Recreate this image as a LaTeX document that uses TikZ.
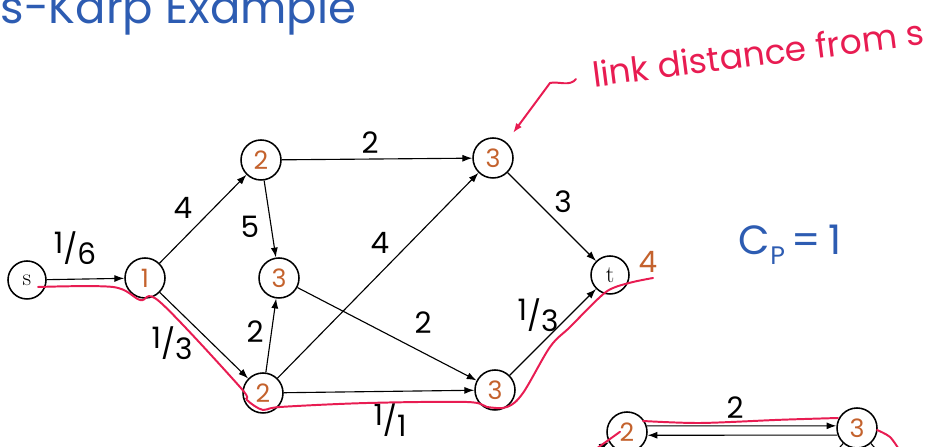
\documentclass[tikz,border=0pt]{standalone}
\usepackage{fontspec}
\newfontfamily\hand{Poppins}
\usetikzlibrary{arrows.meta}
\definecolor{penblue}{RGB}{45,92,178}
\definecolor{penred}{RGB}{232,28,82}
\definecolor{penorange}{RGB}{196,98,45}
\tikzset{
  vert/.style={draw, circle, line width=1.1pt, minimum size=1cm, inner sep=0pt,
    text=penorange, font=\hand\fontsize{18}{18}\selectfont},
  term/.style={draw, circle, line width=1.1pt, minimum size=0.95cm, inner sep=0pt,
    font=\fontsize{17}{17}\selectfont},
  wt/.style={font=\hand\fontsize{21}{21}\selectfont},
  highlight/.style={draw=penred, line width=1.4pt, line cap=round},
  >={Latex[length=7pt,width=5pt]}
}
\newcommand{\slfrac}[2]{\raisebox{0.35ex}{#1}/\raisebox{-0.3ex}{#2}}

\begin{document}
\begin{tikzpicture}[thick]
  \useasboundingbox (0,0) rectangle (23.35,11.175);
  \clip (0,0) rectangle (23.35,11.175);

  % title and notes
  \node[anchor=base west, inner sep=0pt, text=penblue, font=\hand\fontsize{32}{32}\selectfont] (title) at (0,10.575) {s-Karp Example};
  \node[rotate=7.3, text=penred, font=\hand\fontsize{24.5}{24.5}\selectfont] (note) at (18.95,9.85) {link distance from s};
  \node[text=penblue, font=\hand\fontsize{29}{29}\selectfont] (cp) at (19.75,5.05) {C\raisebox{-0.45ex}{\fontsize{18}{18}\selectfont P}\,=\,1};

  % vertices
  \node[term] (s) at (0.675,4.175) {s};
  \node[vert] (v1) at (3.625,4.225) {1};
  \node[vert] (a) at (6.525,7.175) {2};
  \node[vert] (b) at (6.975,4.225) {3};
  \node[vert] (c) at (6.575,1.35) {2};
  \node[vert] (d) at (12.325,7.225) {3};
  \node[vert] (e) at (12.375,1.425) {3};
  \node[term] (t) at (15.25,4.3) {t};
  \node[vert] (f) at (15.675,0.375) {2};
  \node[vert] (g) at (21.425,0.475) {3};

  % edges
  \draw[->] (s) -- (v1);
  \draw[->] (v1) -- (a);
  \draw[->] (v1) -- (c);
  \draw[->] (a) -- (d);
  \draw[->] (a) -- (b);
  \draw[->] (c) -- (b);
  \draw[->] (c) -- (d);
  \draw[->] (b) -- (e);
  \draw[->] (c) -- (e);
  \draw[->] (d) -- (t);
  \draw[->] (e) -- (t);
  \draw[->] (f.17) -- (g.174);
  \draw[->] (g.200) -- (f.-9);
  \coordinate (fin) at (14.4,-0.35);
  \coordinate (gl) at (20.6,-0.45);
  \coordinate (gr) at (22.3,-0.5);
  \draw[->] (fin) -- (f);
  \draw (g) -- (gl);
  \draw (g) -- (gr);

  % weights
  \node[wt] (w1) at (1.875,4.975) {\slfrac{1}{6}};
  \node[wt] (w2) at (4.575,5.975) {4};
  \node[wt] (w3) at (6.25,5.5) {5};
  \node[wt] (w4) at (6.375,2.875) {2};
  \node[wt] (w5) at (4.3,2.6) {\slfrac{1}{3}};
  \node[wt] (w6) at (9.25,7.6) {2};
  \node[wt] (w7) at (9.5,5.1) {4};
  \node[wt] (w8) at (10.575,3.1) {2};
  \node[wt] (w9) at (14.075,6.125) {3};
  \node[wt] (w10) at (13.45,3.3) {\slfrac{1}{3}};
  \node[wt] (w11) at (9.75,0.675) {\slfrac{1}{1}};
  \node[wt] (w12) at (18.375,0.975) {2};
  \node[wt, text=penorange] (tdist) at (16.2,4.625) {4};

  % augmenting path
  \draw[highlight] plot[smooth, tension=0.55] coordinates {(0.95,4.0) (2.825,4.0) (3.5,3.675) (4.0,3.625) (6.0,1.5) (6.175,1.175) (6.575,0.925) (7.0,1.0) (9.175,1.1) (11.675,1.125) (12.175,1.0) (12.675,1.0) (13.075,1.35) (13.75,2.5) (14.25,3.0) (15.0,3.75) (15.325,3.975) (15.825,4.125) (16.325,4.225)};
  \draw[highlight] plot[smooth] coordinates {(16.075,0.65) (17.5,0.6) (19.5,0.68) (20.95,0.725)};
  \draw[highlight] plot[smooth] coordinates {(21.925,0.425) (22.25,0.25) (22.5,-0.1)};
  \draw[highlight] (14.9,-0.05) -- (15.5,0.38);

  % pointer to the note
  \coordinate (tip) at (12.825,7.85);
  \draw[highlight, ->] (14.4,9.2) .. controls (14.25,9.0) and (13.95,9.15) .. (13.75,9.1) -- (tip);
\end{tikzpicture}
\end{document}
